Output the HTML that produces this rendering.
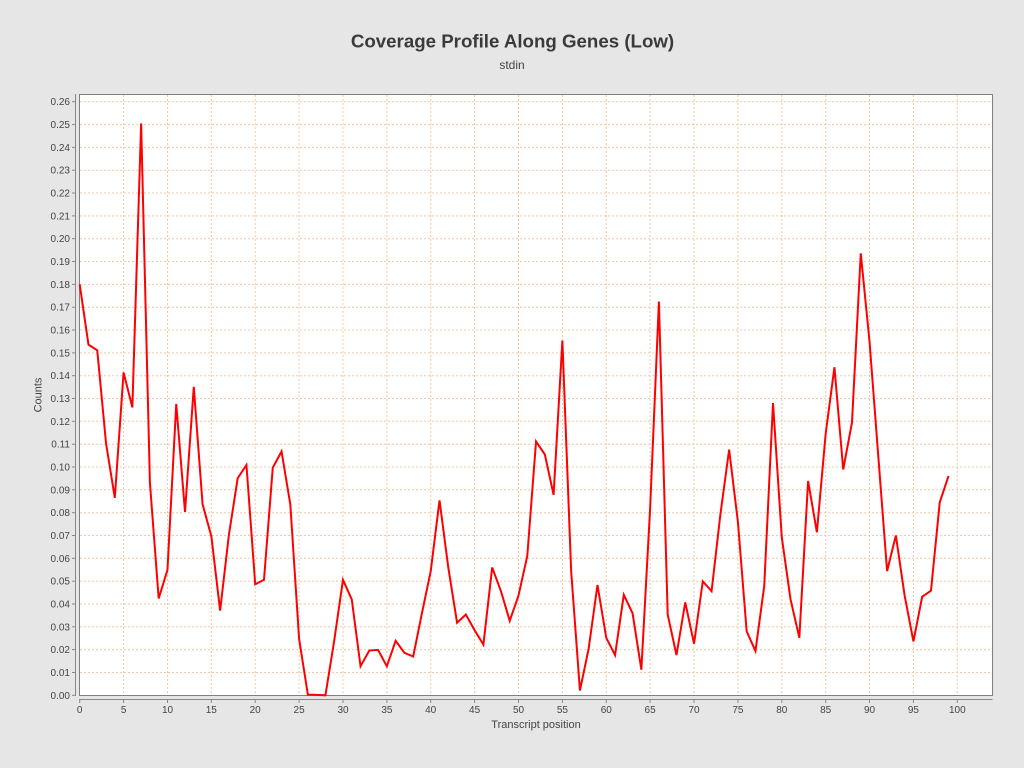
<!DOCTYPE html>
<html>
<head>
<meta charset="utf-8">
<style>
html,body{margin:0;padding:0;background:#e6e6e6;}
svg{display:block;}
text{font-family:"Liberation Sans",Arial,sans-serif;fill:#444;}
</style>
</head>
<body>
<svg width="1024" height="768" viewBox="0 0 1024 768" xmlns="http://www.w3.org/2000/svg">
<rect x="0" y="0" width="1024" height="768" fill="#e6e6e6"/>
<text x="512.5" y="47.7" font-size="18.7" font-weight="bold" text-anchor="middle" style="fill:#3a3a3a">Coverage Profile Along Genes (Low)</text>
<text x="512" y="69" font-size="12" text-anchor="middle">stdin</text>

<rect x="79.5" y="94.5" width="913" height="601" fill="#ffffff" stroke="#808080" stroke-width="1"/>

<g stroke="#f2c9a4" stroke-width="1" stroke-dasharray="2,2" fill="none">
<line x1="123.6" y1="95" x2="123.6" y2="695"/>
<line x1="167.5" y1="95" x2="167.5" y2="695"/>
<line x1="211.3" y1="95" x2="211.3" y2="695"/>
<line x1="255.2" y1="95" x2="255.2" y2="695"/>
<line x1="299.1" y1="95" x2="299.1" y2="695"/>
<line x1="343.0" y1="95" x2="343.0" y2="695"/>
<line x1="386.9" y1="95" x2="386.9" y2="695"/>
<line x1="430.7" y1="95" x2="430.7" y2="695"/>
<line x1="474.6" y1="95" x2="474.6" y2="695"/>
<line x1="518.5" y1="95" x2="518.5" y2="695"/>
<line x1="562.4" y1="95" x2="562.4" y2="695"/>
<line x1="606.3" y1="95" x2="606.3" y2="695"/>
<line x1="650.1" y1="95" x2="650.1" y2="695"/>
<line x1="694.0" y1="95" x2="694.0" y2="695"/>
<line x1="737.9" y1="95" x2="737.9" y2="695"/>
<line x1="781.8" y1="95" x2="781.8" y2="695"/>
<line x1="825.7" y1="95" x2="825.7" y2="695"/>
<line x1="869.5" y1="95" x2="869.5" y2="695"/>
<line x1="913.4" y1="95" x2="913.4" y2="695"/>
<line x1="957.3" y1="95" x2="957.3" y2="695"/>
<line x1="80" y1="672.5" x2="992" y2="672.5"/>
<line x1="80" y1="649.6" x2="992" y2="649.6"/>
<line x1="80" y1="626.8" x2="992" y2="626.8"/>
<line x1="80" y1="604.0" x2="992" y2="604.0"/>
<line x1="80" y1="581.2" x2="992" y2="581.2"/>
<line x1="80" y1="558.3" x2="992" y2="558.3"/>
<line x1="80" y1="535.5" x2="992" y2="535.5"/>
<line x1="80" y1="512.7" x2="992" y2="512.7"/>
<line x1="80" y1="489.8" x2="992" y2="489.8"/>
<line x1="80" y1="467.0" x2="992" y2="467.0"/>
<line x1="80" y1="444.2" x2="992" y2="444.2"/>
<line x1="80" y1="421.3" x2="992" y2="421.3"/>
<line x1="80" y1="398.5" x2="992" y2="398.5"/>
<line x1="80" y1="375.7" x2="992" y2="375.7"/>
<line x1="80" y1="352.9" x2="992" y2="352.9"/>
<line x1="80" y1="330.0" x2="992" y2="330.0"/>
<line x1="80" y1="307.2" x2="992" y2="307.2"/>
<line x1="80" y1="284.4" x2="992" y2="284.4"/>
<line x1="80" y1="261.5" x2="992" y2="261.5"/>
<line x1="80" y1="238.7" x2="992" y2="238.7"/>
<line x1="80" y1="215.9" x2="992" y2="215.9"/>
<line x1="80" y1="193.0" x2="992" y2="193.0"/>
<line x1="80" y1="170.2" x2="992" y2="170.2"/>
<line x1="80" y1="147.4" x2="992" y2="147.4"/>
<line x1="80" y1="124.6" x2="992" y2="124.6"/>
<line x1="80" y1="101.7" x2="992" y2="101.7"/>
</g>

<g stroke="#888888" stroke-width="1" fill="none">
<line x1="75.5" y1="94" x2="75.5" y2="696"/>
<line x1="79" y1="699.5" x2="992.5" y2="699.5"/>
<line x1="72" y1="695.3" x2="75.5" y2="695.3"/>
<line x1="72" y1="672.5" x2="75.5" y2="672.5"/>
<line x1="72" y1="649.6" x2="75.5" y2="649.6"/>
<line x1="72" y1="626.8" x2="75.5" y2="626.8"/>
<line x1="72" y1="604.0" x2="75.5" y2="604.0"/>
<line x1="72" y1="581.2" x2="75.5" y2="581.2"/>
<line x1="72" y1="558.3" x2="75.5" y2="558.3"/>
<line x1="72" y1="535.5" x2="75.5" y2="535.5"/>
<line x1="72" y1="512.7" x2="75.5" y2="512.7"/>
<line x1="72" y1="489.8" x2="75.5" y2="489.8"/>
<line x1="72" y1="467.0" x2="75.5" y2="467.0"/>
<line x1="72" y1="444.2" x2="75.5" y2="444.2"/>
<line x1="72" y1="421.3" x2="75.5" y2="421.3"/>
<line x1="72" y1="398.5" x2="75.5" y2="398.5"/>
<line x1="72" y1="375.7" x2="75.5" y2="375.7"/>
<line x1="72" y1="352.9" x2="75.5" y2="352.9"/>
<line x1="72" y1="330.0" x2="75.5" y2="330.0"/>
<line x1="72" y1="307.2" x2="75.5" y2="307.2"/>
<line x1="72" y1="284.4" x2="75.5" y2="284.4"/>
<line x1="72" y1="261.5" x2="75.5" y2="261.5"/>
<line x1="72" y1="238.7" x2="75.5" y2="238.7"/>
<line x1="72" y1="215.9" x2="75.5" y2="215.9"/>
<line x1="72" y1="193.0" x2="75.5" y2="193.0"/>
<line x1="72" y1="170.2" x2="75.5" y2="170.2"/>
<line x1="72" y1="147.4" x2="75.5" y2="147.4"/>
<line x1="72" y1="124.6" x2="75.5" y2="124.6"/>
<line x1="72" y1="101.7" x2="75.5" y2="101.7"/>
<line x1="79.7" y1="699.5" x2="79.7" y2="703"/>
<line x1="123.6" y1="699.5" x2="123.6" y2="703"/>
<line x1="167.5" y1="699.5" x2="167.5" y2="703"/>
<line x1="211.3" y1="699.5" x2="211.3" y2="703"/>
<line x1="255.2" y1="699.5" x2="255.2" y2="703"/>
<line x1="299.1" y1="699.5" x2="299.1" y2="703"/>
<line x1="343.0" y1="699.5" x2="343.0" y2="703"/>
<line x1="386.9" y1="699.5" x2="386.9" y2="703"/>
<line x1="430.7" y1="699.5" x2="430.7" y2="703"/>
<line x1="474.6" y1="699.5" x2="474.6" y2="703"/>
<line x1="518.5" y1="699.5" x2="518.5" y2="703"/>
<line x1="562.4" y1="699.5" x2="562.4" y2="703"/>
<line x1="606.3" y1="699.5" x2="606.3" y2="703"/>
<line x1="650.1" y1="699.5" x2="650.1" y2="703"/>
<line x1="694.0" y1="699.5" x2="694.0" y2="703"/>
<line x1="737.9" y1="699.5" x2="737.9" y2="703"/>
<line x1="781.8" y1="699.5" x2="781.8" y2="703"/>
<line x1="825.7" y1="699.5" x2="825.7" y2="703"/>
<line x1="869.5" y1="699.5" x2="869.5" y2="703"/>
<line x1="913.4" y1="699.5" x2="913.4" y2="703"/>
<line x1="957.3" y1="699.5" x2="957.3" y2="703"/>
</g>

<g font-size="10" text-anchor="end">
<text x="70" y="698.8">0.00</text>
<text x="70" y="676.0">0.01</text>
<text x="70" y="653.1">0.02</text>
<text x="70" y="630.3">0.03</text>
<text x="70" y="607.5">0.04</text>
<text x="70" y="584.7">0.05</text>
<text x="70" y="561.8">0.06</text>
<text x="70" y="539.0">0.07</text>
<text x="70" y="516.2">0.08</text>
<text x="70" y="493.3">0.09</text>
<text x="70" y="470.5">0.10</text>
<text x="70" y="447.7">0.11</text>
<text x="70" y="424.8">0.12</text>
<text x="70" y="402.0">0.13</text>
<text x="70" y="379.2">0.14</text>
<text x="70" y="356.4">0.15</text>
<text x="70" y="333.5">0.16</text>
<text x="70" y="310.7">0.17</text>
<text x="70" y="287.9">0.18</text>
<text x="70" y="265.0">0.19</text>
<text x="70" y="242.2">0.20</text>
<text x="70" y="219.4">0.21</text>
<text x="70" y="196.5">0.22</text>
<text x="70" y="173.7">0.23</text>
<text x="70" y="150.9">0.24</text>
<text x="70" y="128.1">0.25</text>
<text x="70" y="105.2">0.26</text>
</g>

<g font-size="10" text-anchor="middle">
<text x="79.7" y="713">0</text>
<text x="123.6" y="713">5</text>
<text x="167.5" y="713">10</text>
<text x="211.3" y="713">15</text>
<text x="255.2" y="713">20</text>
<text x="299.1" y="713">25</text>
<text x="343.0" y="713">30</text>
<text x="386.9" y="713">35</text>
<text x="430.7" y="713">40</text>
<text x="474.6" y="713">45</text>
<text x="518.5" y="713">50</text>
<text x="562.4" y="713">55</text>
<text x="606.3" y="713">60</text>
<text x="650.1" y="713">65</text>
<text x="694.0" y="713">70</text>
<text x="737.9" y="713">75</text>
<text x="781.8" y="713">80</text>
<text x="825.7" y="713">85</text>
<text x="869.5" y="713">90</text>
<text x="913.4" y="713">95</text>
<text x="957.3" y="713">100</text>
</g>

<text x="536" y="728" font-size="11" text-anchor="middle">Transcript position</text>
<text x="0" y="0" font-size="11" text-anchor="middle" transform="translate(41.5,395) rotate(-90)">Counts</text>

<g transform="translate(79.7,695.3) scale(8.776,-2283)">
<polyline fill="none" stroke="#ff0000" stroke-width="2" vector-effect="non-scaling-stroke" points="0,0.180 1,0.1536 2,0.1511 3,0.1104 4,0.0865 5,0.1414 6,0.1261 7,0.2505 8,0.0931 9,0.0424 10,0.0549 11,0.1276 12,0.0803 13,0.1351 14,0.0837 15,0.0697 16,0.0371 17,0.0702 18,0.0951 19,0.1009 20,0.0486 21,0.0506 22,0.0997 23,0.1068 24,0.0836 25,0.0247 26,0.0003 27,0.0002 28,0.0 29,0.0239 30,0.0506 31,0.0420 32,0.0127 33,0.0196 34,0.0199 35,0.0127 36,0.0239 37,0.0186 38,0.0170 39,0.036 40,0.0544 41,0.0854 42,0.0560 43,0.0318 44,0.0354 45,0.0285 46,0.0222 47,0.0560 48,0.0456 49,0.0326 50,0.0437 51,0.0610 52,0.1112 53,0.1055 54,0.0878 55,0.1554 56,0.0544 57,0.0021 58,0.0206 59,0.0483 60,0.0252 61,0.0176 62,0.0440 63,0.0359 64,0.0112 65,0.082 66,0.1725 67,0.0354 68,0.0176 69,0.0407 70,0.0226 71,0.0499 72,0.0456 73,0.0791 74,0.1076 75,0.076 76,0.0280 77,0.0194 78,0.0478 79,0.1280 80,0.0692 81,0.0420 82,0.0252 83,0.0939 84,0.0714 85,0.1145 86,0.1437 87,0.0989 88,0.1195 89,0.1936 90,0.1549 91,0.1046 92,0.0544 93,0.0700 94,0.0437 95,0.0236 96,0.0432 97,0.0458 98,0.0845 99,0.0961"/>
</g>
</svg>
</body>
</html>
